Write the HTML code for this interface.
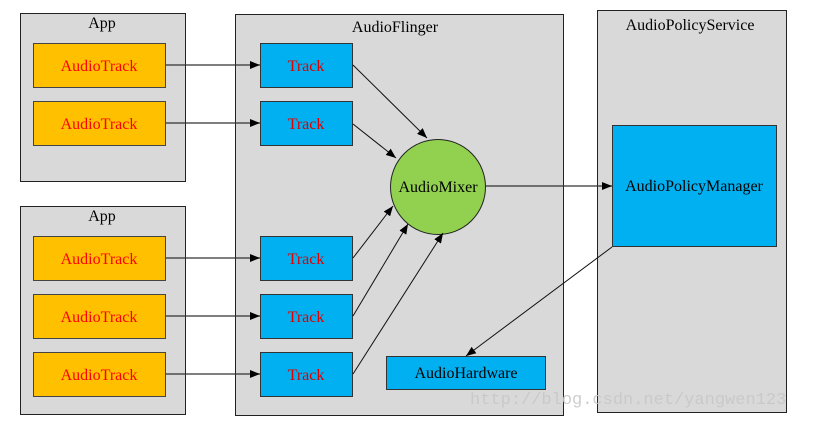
<!DOCTYPE html>
<html><head><meta charset="utf-8"><style>html,body{margin:0;padding:0;background:#fff}svg{display:block}</style></head><body>
<svg width="824" height="423" viewBox="0 0 824 423" xmlns="http://www.w3.org/2000/svg" font-family="Liberation Serif, serif" font-size="16">
<defs><marker id="a" markerWidth="10" markerHeight="8" refX="10" refY="4" orient="auto" markerUnits="userSpaceOnUse"><path d="M0,0 L10,4 L0,8 z" fill="#000"/></marker></defs>
<g stroke="#222" stroke-width="1" fill="#d9d9d9">
<rect x="20.5" y="13.5" width="165" height="168"/>
<rect x="20.5" y="206.5" width="165" height="208"/>
<rect x="235.5" y="14.5" width="328" height="401"/>
<rect x="597.5" y="10.5" width="189" height="402"/>
</g>
<g fill="#000" text-anchor="middle">
<text x="102" y="28">App</text>
<text x="102" y="221">App</text>
<text x="395" y="32">AudioFlinger</text>
<text x="690" y="30">AudioPolicyService</text>
</g>
<g stroke="#444" fill="#ffc000">
<rect x="33.5" y="43.5" width="132" height="44"/>
<rect x="33.5" y="101.5" width="132" height="44"/>
<rect x="33.5" y="236.5" width="132" height="44"/>
<rect x="33.5" y="294.5" width="132" height="44"/>
<rect x="33.5" y="352.5" width="132" height="44"/>
</g>
<g fill="#ff0000" text-anchor="middle">
<text x="99" y="71">AudioTrack</text>
<text x="99" y="129">AudioTrack</text>
<text x="99" y="264">AudioTrack</text>
<text x="99" y="322">AudioTrack</text>
<text x="99" y="380">AudioTrack</text>
</g>
<g stroke="#333" fill="#00b0f0">
<rect x="260.5" y="43.5" width="92" height="44"/>
<rect x="260.5" y="101.5" width="92" height="44"/>
<rect x="260.5" y="236.5" width="92" height="44"/>
<rect x="260.5" y="294.5" width="92" height="44"/>
<rect x="260.5" y="352.5" width="92" height="44"/>
<rect x="612.5" y="125.5" width="164" height="121"/>
<rect x="386.5" y="356.5" width="159" height="33"/>
</g>
<g fill="#e00000" text-anchor="middle">
<text x="306" y="71">Track</text>
<text x="306" y="129">Track</text>
<text x="306" y="264">Track</text>
<text x="306" y="322">Track</text>
<text x="306" y="380">Track</text>
</g>
<circle cx="438" cy="187" r="47.5" fill="#92d050" stroke="#222"/>
<g fill="#000" text-anchor="middle">
<text x="438" y="192">AudioMixer</text>
<text x="694" y="191">AudioPolicyManager</text>
<text x="466" y="378">AudioHardware</text>
</g>
<g stroke="#333" stroke-width="1.3" fill="none" marker-end="url(#a)">
<line x1="166" y1="65" x2="260" y2="65"/>
<line x1="166" y1="123" x2="260" y2="123"/>
<line x1="166" y1="258" x2="260" y2="258"/>
<line x1="166" y1="316" x2="260" y2="316"/>
<line x1="166" y1="374" x2="260" y2="374"/>
<line x1="486" y1="186" x2="612" y2="186"/>
</g>
<g stroke="#111" stroke-width="1" fill="none" marker-end="url(#a)">
<line x1="353" y1="65" x2="427" y2="138"/>
<line x1="353" y1="124" x2="396" y2="158"/>
<line x1="353" y1="258" x2="393" y2="206"/>
<line x1="353" y1="316" x2="408" y2="224"/>
<line x1="353" y1="374" x2="443" y2="233"/>
<line x1="612" y1="247" x2="466" y2="356"/>
</g>
<text x="470" y="404" font-family="Liberation Mono, monospace" font-size="17" fill="#c8c8c8" opacity="0.9">http://blog.csdn.net/yangwen123</text>
</svg>
</body></html>
